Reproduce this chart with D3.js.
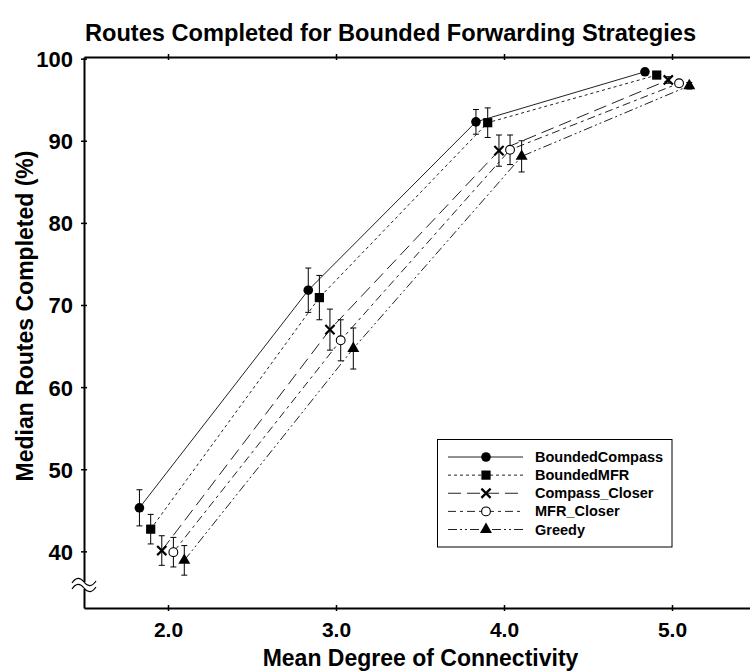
<!DOCTYPE html>
<html>
<head>
<meta charset="utf-8">
<script src="https://cdn.jsdelivr.net/npm/d3@7"></script>
<style>
  body { margin: 0; background: #fff; }
  text { font-family: "Liberation Sans", Arial, sans-serif; font-weight: bold; fill: #000; }
</style>
</head>
<body>
<svg id="chart" width="750" height="671"></svg>
<script>
// Median routes completed (%) vs. mean degree of connectivity, per strategy
const seriesNames = ["BoundedCompass", "BoundedMFR", "Compass_Closer", "MFR_Closer", "Greedy"];

const degreeBoundedCompass = [1.830, 2.835, 3.833, 4.839];
const routesBoundedCompass = [45.3, 71.8, 92.3, 98.4];
const errorBoundedCompass  = [2.2, 2.7, 1.5, 0.4];

const degreeBoundedMFR = [1.897, 2.901, 3.903, 4.909];
const routesBoundedMFR = [42.7, 70.9, 92.2, 98.0];
const errorBoundedMFR  = [1.8, 2.7, 1.8, 0.4];

const degreeCompassCloser = [1.963, 2.964, 3.970, 4.978];
const routesCompassCloser = [40.1, 67.0, 88.8, 97.4];
const errorCompassCloser  = [1.8, 2.5, 1.9, 0.4];

const degreeMFRCloser = [2.032, 3.028, 4.036, 5.042];
const routesMFRCloser = [39.9, 65.7, 88.9, 97.0];
const errorMFRCloser  = [1.8, 2.5, 1.8, 0.4];

const degreeGreedy = [2.097, 3.103, 4.105, 5.103];
const routesGreedy = [38.9, 64.7, 88.1, 96.7];
const errorGreedy  = [1.8, 2.5, 1.9, 0.4];

const xTickValues = [2, 3, 4, 5];
const xTickLabels = ["2.0", "3.0", "4.0", "5.0"];
const yTickValues = [40, 50, 60, 70, 80, 90, 100];

const degrees = [degreeBoundedCompass, degreeBoundedMFR, degreeCompassCloser, degreeMFRCloser, degreeGreedy];
const routes  = [routesBoundedCompass, routesBoundedMFR, routesCompassCloser, routesMFRCloser, routesGreedy];
const errors  = [errorBoundedCompass, errorBoundedMFR, errorCompassCloser, errorMFRCloser, errorGreedy];

const series = seriesNames.map((name, i) => ({
  name,
  points: degrees[i].map((d, j) => ({ x: d, y: routes[i][j], e: errors[i][j] }))
}));

// per-series line dash and marker
const dashes  = [null, "3,3", "13,6", "8,4,3,4", "9,3,2,3,2,3"];
const markers = ["circle", "square", "cross", "open", "triangle"];

const svg = d3.select("#chart");

const x = d3.scaleLinear().domain([1.5, 5.5]).range([84, 756]);
const y = d3.scaleLinear().domain([33.1, 100.2]).range([608, 57]);

// title
svg.append("text")
  .attr("x", 390.5).attr("y", 41)
  .attr("text-anchor", "middle")
  .attr("font-size", 24)
  .attr("textLength", 611).attr("lengthAdjust", "spacingAndGlyphs")
  .text("Routes Completed for Bounded Forwarding Strategies");

// bottom axis
const xAxis = svg.append("g").attr("transform", `translate(0,${y.range()[0]})`)
  .call(d3.axisBottom(x).tickValues(xTickValues).tickFormat((d, i) => xTickLabels[i]).tickSize(3).tickSizeOuter(0));
xAxis.select(".domain").attr("stroke-width", 2);
xAxis.selectAll(".tick line").attr("y1", -3).attr("y2", 3).attr("stroke-width", 1.5);
xAxis.selectAll(".tick text").attr("y", 29).attr("dy", 0).attr("font-size", 21)
  .attr("font-family", "Liberation Sans, Arial, sans-serif").attr("font-weight", "bold");

// top frame with mirrored ticks
const xTop = svg.append("g").attr("transform", `translate(0,${y.range()[1]})`)
  .call(d3.axisTop(x).tickValues(xTickValues).tickFormat("").tickSize(3).tickSizeOuter(0));
xTop.select(".domain").attr("stroke-width", 2);
xTop.selectAll(".tick line").attr("y1", -3).attr("y2", 3).attr("stroke-width", 1.5);

// left axis
const yAxis = svg.append("g").attr("transform", `translate(${x.range()[0]},0)`)
  .call(d3.axisLeft(y).tickValues(yTickValues).tickFormat(d3.format("d")).tickSize(3).tickSizeOuter(0));
yAxis.select(".domain").attr("stroke-width", 2);
yAxis.selectAll(".tick line").attr("x1", -3).attr("x2", 3).attr("stroke-width", 1.5);
yAxis.selectAll(".tick text").attr("x", -11).attr("dy", "0.36em").attr("font-size", 22)
  .attr("font-family", "Liberation Sans, Arial, sans-serif").attr("font-weight", "bold");

// axis break mark on the y axis
const bx = x.range()[0];
const brk = svg.append("g");
brk.append("rect").attr("x", bx - 2).attr("y", 582).attr("width", 4).attr("height", 7).attr("fill", "#fff");
[582, 588].forEach(by => {
  brk.append("path")
    .attr("d", `M${bx - 12},${by + 1} C${bx - 8},${by - 5} ${bx - 4},${by - 5} ${bx},${by} S${bx + 8},${by + 5} ${bx + 12},${by - 1}`)
    .attr("fill", "none").attr("stroke", "#000").attr("stroke-width", 1.2);
});

// axis titles
svg.append("text")
  .attr("x", 420.5).attr("y", 666)
  .attr("text-anchor", "middle").attr("font-size", 23)
  .text("Mean Degree of Connectivity");

svg.append("text")
  .attr("transform", "translate(33,316) rotate(-90)")
  .attr("text-anchor", "middle").attr("font-size", 23)
  .text("Median Routes Completed (%)");

// marker drawing
function drawMarker(g, type, cx, cy) {
  if (type === "circle") {
    g.append("circle").attr("cx", cx).attr("cy", cy).attr("r", 4.8).attr("fill", "#000");
  } else if (type === "square") {
    g.append("rect").attr("x", cx - 4.6).attr("y", cy - 4.6).attr("width", 9.2).attr("height", 9.2).attr("fill", "#000");
  } else if (type === "cross") {
    const s = 4.6;
    g.append("path").attr("d", `M${cx - s},${cy - s}L${cx + s},${cy + s}M${cx - s},${cy + s}L${cx + s},${cy - s}`)
      .attr("stroke", "#000").attr("stroke-width", 2.2).attr("fill", "none");
  } else if (type === "open") {
    g.append("circle").attr("cx", cx).attr("cy", cy).attr("r", 4.4).attr("fill", "#fff")
      .attr("stroke", "#000").attr("stroke-width", 1.1);
  } else if (type === "triangle") {
    g.append("path").attr("d", d3.symbol().type(d3.symbolTriangle).size(62)())
      .attr("transform", `translate(${cx},${cy})`).attr("fill", "#000");
  }
}

const line = d3.line().x(d => x(d.x)).y(d => y(d.y));
const plot = svg.append("g");

// connecting lines
series.forEach((s, i) => {
  plot.append("path").datum(s.points)
    .attr("d", line)
    .attr("fill", "none").attr("stroke", "#222").attr("stroke-width", 1)
    .attr("stroke-dasharray", dashes[i]);
});

// error bars and markers
series.forEach((s, i) => {
  const g = plot.append("g");
  s.points.forEach(p => {
    const cx = x(p.x), y0 = y(p.y - p.e), y1 = y(p.y + p.e);
    g.append("path")
      .attr("d", `M${cx},${y0}L${cx},${y1}M${cx - 3},${y0}L${cx + 3},${y0}M${cx - 3},${y1}L${cx + 3},${y1}`)
      .attr("stroke", "#000").attr("stroke-width", 1).attr("fill", "none");
  });
  s.points.forEach(p => drawMarker(g, markers[i], x(p.x), y(p.y)));
});

// legend
const legend = svg.append("g");
legend.append("rect").attr("x", 437.5).attr("y", 439.5).attr("width", 234.5).attr("height", 107.5)
  .attr("fill", "#fff").attr("stroke", "#000").attr("stroke-width", 1);
const rowY = d3.scaleLinear().domain([0, 4]).range([457, 529.5]);
series.forEach((s, i) => {
  const ry = rowY(i);
  legend.append("line").attr("x1", 448).attr("x2", 523).attr("y1", ry).attr("y2", ry)
    .attr("stroke", "#222").attr("stroke-width", 1).attr("stroke-dasharray", dashes[i]);
  drawMarker(legend, markers[i], 486, ry);
  legend.append("text").attr("x", 535).attr("y", ry + 5).attr("font-size", 14.5).text(s.name);
});
</script>
</body>
</html>
